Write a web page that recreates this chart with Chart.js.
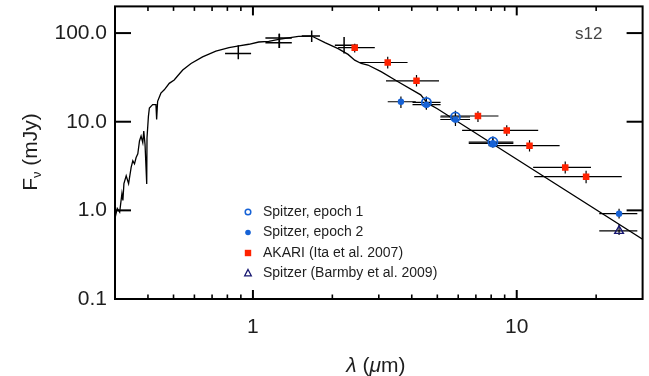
<!DOCTYPE html>
<html><head><meta charset="utf-8">
<script src="https://cdn.jsdelivr.net/npm/chart.js@4/dist/chart.umd.min.js"></script>
<style>html,body{margin:0;padding:0;background:#fff;}canvas{display:block;}</style>
</head><body>
<canvas id="c" width="649" height="376"></canvas>
<script>
// ---------- DATA ----------
// model spectrum (wavelength in micron, flux in mJy)
const specLam  = [0.3007,0.306,0.3125,0.3187,0.3214,0.3243,0.3308,0.3378,0.3454,0.3505,0.3557,0.3607,0.3661,0.3715,0.3767,0.3823,0.3856,0.3899,0.3957,0.3967,0.4016,0.405,0.4168,0.4289,0.4315,0.4352,0.4478,0.4612,0.4817,0.5029,0.5188,0.5418,0.5826,0.6442,0.7236,0.8115,0.885,0.965,1.052,1.148,1.251,1.488,1.670,1.875,2.103,2.294,2.431,2.573,2.728,3.060,3.536,4.326,4.585,5.000,33.6];
const specFlux = [0.842,1.053,0.957,1.549,1.293,2.00,2.46,2.00,3.05,3.62,3.35,3.94,4.34,6.06,6.89,5.80,7.83,5.56,1.99,6.59,11.5,14.3,15.6,15.6,10.6,17.0,21.0,22.9,27.1,29.6,33.0,38.3,45.4,53.9,62.4,68.5,71.6,74.8,79.3,80.8,85.0,91.9,92.6,77.9,66.8,57.5,49.5,45.4,43.6,36.7,28.4,20.1,16.2,14.0,0.381];

// optical / near-IR photometry (black crosses)
const nirLam     = [0.880, 1.259, 1.259, 1.670, 2.216];
const nirFlux    = [58.7, 87.9, 77.9, 92.6, 72.9];
const nirLamLo   = [0.784, 1.115, 1.115, 1.531, 2.044];
const nirLamHi   = [0.984, 1.404, 1.404, 1.795, 2.501];
const nirFluxLo  = [50.8, 68.0, 68.0, 79.3, 58.7];
const nirFluxHi  = [72.9, 98.3, 98.3, 107, 90.2];

// AKARI (Ita et al. 2007)
const akariLam    = [2.431, 3.243, 4.169, 7.129, 9.165, 11.18, 15.27, 18.32];
const akariFlux   = [68.5, 46.6, 28.9, 11.6, 7.97, 5.37, 3.05, 2.40];
const akariLamLo  = [2.103, 2.545, 3.195, 5.144, 6.207, 7.82, 11.54, 11.65];
const akariLamHi  = [2.897, 3.856, 5.074, 8.526, 12.06, 14.54, 19.12, 25.01];
const akariFluxLo = [60.2, 39.9, 24.9, 9.95, 6.89, 4.60, 2.61, 2.02];
const akariFluxHi = [75.9, 53.9, 33.7, 13.1, 9.14, 6.17, 3.56, 2.80];

// Spitzer epoch 2 (filled)
const ep2Lam    = [3.639, 4.545, 5.857, 8.12, 24.43];
const ep2Flux   = [16.8, 15.6, 10.6, 5.71, 0.918];
const ep2LamLo  = [3.243, 4.026, 5.131, 6.577, 20.55];
const ep2LamHi  = [4.143, 5.144, 6.653, 9.71, 28.65];
const ep2FluxLo = [14.3, 13.7, 8.92, 5.10, 0.808];
const ep2FluxHi = [19.3, 18.5, 13.1, 6.72, 1.04];

// Spitzer epoch 1 (open)
const ep1Lam    = [4.545, 5.857, 8.12];
const ep1Flux   = [16.5, 11.3, 5.90];
const ep1LamLo  = [4.026, 5.131, 6.577];
const ep1LamHi  = [5.144, 6.653, 9.71];
const ep1FluxLo = [13.7, 9.5, 5.2];
const ep1FluxHi = [19.3, 13.3, 6.8];

// Spitzer (Barmby et al. 2009)
const barLam    = [24.43];
const barFlux   = [0.587];
const barLamLo  = [20.55];
const barLamHi  = [28.65];
const barFluxLo = [0.526];
const barFluxHi = [0.698];

// axes
const xTickValues = [1, 10];
const xTickLabels = ['1', '10'];
const xMinorTicks = [0.4,0.5,0.6,0.7,0.8,0.9,2,3,4,5,6,7,8,9,20];
const yTickValues = [0.1, 1, 10, 100];
const yTickLabels = ['0.1', '1.0', '10.0', '100.0'];
const legendLabels = ['Spitzer, epoch 1', 'Spitzer, epoch 2', 'AKARI (Ita et al. 2007)', 'Spitzer (Barmby et al. 2009)'];
const panelLabel = 's12';

// ---------- STYLE ----------
const FONT = "'Liberation Sans', Arial, Helvetica, sans-serif";
const TXT = '#1e1e1e';
const BLUE = '#1662d6';
const RED = '#ff2200';
const NAVY = '#161670';

function pts(xs, ys) { return xs.map((x, i) => ({ x: x, y: ys[i] })); }

const errSets = [
  [nirLam, nirFlux, nirLamLo, nirLamHi, nirFluxLo, nirFluxHi, 1.5],
  [akariLam, akariFlux, akariLamLo, akariLamHi, akariFluxLo, akariFluxHi, 1.2],
  [ep2Lam, ep2Flux, ep2LamLo, ep2LamHi, ep2FluxLo, ep2FluxHi, 1.2],
  [ep1Lam, ep1Flux, ep1LamLo, ep1LamHi, ep1FluxLo, ep1FluxHi, 1.2],
  [barLam, barFlux, barLamLo, barLamHi, barFluxLo, barFluxHi, 1.2]
];

const sedPlugin = {
  id: 'sed',
  beforeDatasetsDraw(chart) {
    const ctx = chart.ctx, xs = chart.scales.x, ys = chart.scales.y, a = chart.chartArea;
    ctx.save();
    ctx.beginPath(); ctx.rect(a.left, a.top, a.right - a.left, a.bottom - a.top); ctx.clip();
    ctx.strokeStyle = '#000';
    errSets.forEach(s => {
      const [lam, fl, lo, hi, flo, fhi, w] = s;
      ctx.lineWidth = w;
      for (let i = 0; i < lam.length; i++) {
        const px = xs.getPixelForValue(lam[i]), py = ys.getPixelForValue(fl[i]);
        ctx.beginPath();
        ctx.moveTo(xs.getPixelForValue(lo[i]), py);
        ctx.lineTo(xs.getPixelForValue(hi[i]), py);
        ctx.moveTo(px, ys.getPixelForValue(flo[i]));
        ctx.lineTo(px, ys.getPixelForValue(fhi[i]));
        ctx.stroke();
      }
    });
    ctx.restore();
  },
  afterDraw(chart) {
    const ctx = chart.ctx, xs = chart.scales.x, ys = chart.scales.y, a = chart.chartArea;
    ctx.save();
    // frame
    ctx.strokeStyle = '#000';
    ctx.lineWidth = 2;
    ctx.strokeRect(a.left, a.top, a.right - a.left, a.bottom - a.top);
    // x ticks (bottom and top, inward)
    const tick = (x1, y1, x2, y2, w) => { ctx.lineWidth = w; ctx.beginPath(); ctx.moveTo(x1, y1); ctx.lineTo(x2, y2); ctx.stroke(); };
    xTickValues.forEach(v => { const p = xs.getPixelForValue(v); tick(p, a.bottom, p, a.bottom - 9, 2); tick(p, a.top, p, a.top + 9, 2); });
    xMinorTicks.forEach(v => { const p = xs.getPixelForValue(v); tick(p, a.bottom, p, a.bottom - 4.5, 1.6); tick(p, a.top, p, a.top + 4.5, 1.6); });
    yTickValues.forEach(v => { const p = ys.getPixelForValue(v); tick(a.left, p, a.left + 16, p, 2); tick(a.right, p, a.right - 16, p, 2); });

    // x title: λ (μm)
    ctx.fillStyle = TXT;
    ctx.textBaseline = 'middle';
    const parts = [['λ', true], [' (', false], ['μ', true], ['m)', false]];
    const f = (it) => (it ? 'italic ' : '') + '21px ' + FONT;
    let tw = 0;
    parts.forEach(p => { ctx.font = f(p[1]); tw += ctx.measureText(p[0]).width; });
    let cx = (a.left + a.right) / 2 - tw / 2 - 3;
    parts.forEach(p => { ctx.font = f(p[1]); ctx.textAlign = 'left'; ctx.fillText(p[0], cx, 366); cx += ctx.measureText(p[0]).width; });

    // y title: F_ν (mJy), rotated
    ctx.save();
    ctx.translate(31, 152);
    ctx.rotate(-Math.PI / 2);
    const big = '21px ' + FONT, small = '13px ' + FONT;
    ctx.font = big; const wF = ctx.measureText('F').width;
    ctx.font = small; const wN = ctx.measureText('ν').width;
    ctx.font = big; const wR = ctx.measureText(' (mJy)').width;
    let sx = -(wF + wN + wR) / 2;
    ctx.textAlign = 'left';
    ctx.font = big; ctx.fillText('F', sx, 0); sx += wF;
    ctx.font = small; ctx.fillText('ν', sx, 6); sx += wN;
    ctx.font = big; ctx.fillText(' (mJy)', sx, 0);
    ctx.restore();

    // panel label
    ctx.fillStyle = '#444';
    ctx.font = '17px ' + FONT;
    ctx.textAlign = 'left';
    ctx.fillText(panelLabel, 575, 34);

    // legend
    const lx = 248, tx = 263, rows = [212, 232.5, 253, 273];
    ctx.font = '14px ' + FONT;
    ctx.fillStyle = TXT;
    legendLabels.forEach((t, i) => ctx.fillText(t, tx, rows[i]));
    // symbols
    ctx.strokeStyle = BLUE; ctx.lineWidth = 1.5;
    ctx.beginPath(); ctx.arc(lx, rows[0], 2.8, 0, Math.PI * 2); ctx.stroke();
    ctx.fillStyle = BLUE;
    ctx.beginPath(); ctx.arc(lx, rows[1], 2.8, 0, Math.PI * 2); ctx.fill();
    ctx.fillStyle = RED;
    ctx.fillRect(lx - 3.2, rows[2] - 3.2, 6.4, 6.4);
    ctx.strokeStyle = NAVY; ctx.lineWidth = 1.3;
    ctx.beginPath(); ctx.moveTo(lx, rows[3] - 3.5); ctx.lineTo(lx + 3.3, rows[3] + 2.8); ctx.lineTo(lx - 3.3, rows[3] + 2.8); ctx.closePath(); ctx.stroke();
    ctx.restore();
  }
};

new Chart(document.getElementById('c'), {
  type: 'scatter',
  data: {
    datasets: [
      { label: legendLabels[0], data: pts(ep1Lam, ep1Flux), pointStyle: 'circle', pointRadius: 4.6, backgroundColor: 'rgba(0,0,0,0)', borderColor: BLUE, borderWidth: 1.8 },
      { label: legendLabels[1], data: pts(ep2Lam, ep2Flux), pointStyle: 'circle', pointRadius: 3.2, backgroundColor: BLUE, borderColor: BLUE, borderWidth: 0 },
      { label: legendLabels[2], data: pts(akariLam, akariFlux), pointStyle: 'rect', pointRadius: 4.6, backgroundColor: RED, borderColor: RED, borderWidth: 0 },
      { label: legendLabels[3], data: pts(barLam, barFlux), pointStyle: 'triangle', pointRadius: 5, backgroundColor: 'rgba(0,0,0,0)', borderColor: NAVY, borderWidth: 1.4 },
      { label: 'photometry', data: pts(nirLam, nirFlux), pointRadius: 0 },
      { label: 'model', data: pts(specLam, specFlux), showLine: true, pointRadius: 0, borderColor: '#000', borderWidth: 1.3, fill: false, tension: 0 }
    ]
  },
  options: {
    responsive: false,
    animation: false,
    devicePixelRatio: 1,
    layout: { padding: { left: 0, right: 2, top: 4.5, bottom: 0 } },
    plugins: { legend: { display: false }, tooltip: { enabled: false } },
    scales: {
      x: {
        type: 'logarithmic', min: 0.3, max: 30, position: 'bottom',
        grid: { display: false, drawTicks: false }, border: { display: false },
        afterBuildTicks: s => { s.ticks = xTickValues.map(v => ({ value: v })); },
        afterFit: s => { s.height = 77; s.paddingLeft = 0; s.paddingRight = 0; },
        ticks: { autoSkip: false, maxRotation: 0, padding: 16, color: TXT, font: { family: FONT, size: 21 },
          callback: (v) => { const i = xTickValues.indexOf(v); return i >= 0 ? xTickLabels[i] : ''; } }
      },
      y: {
        type: 'logarithmic', min: 0.1, max: 200, position: 'left',
        grid: { display: false, drawTicks: false }, border: { display: false },
        afterBuildTicks: s => { s.ticks = yTickValues.map(v => ({ value: v })); },
        afterFit: s => { s.width = 115; s.paddingTop = 0; s.paddingBottom = 0; },
        ticks: { autoSkip: false, padding: 8, color: TXT, font: { family: FONT, size: 21 },
          callback: (v) => { const i = yTickValues.indexOf(v); return i >= 0 ? yTickLabels[i] : ''; } }
      }
    }
  },
  plugins: [sedPlugin]
});
</script>
</body></html>
